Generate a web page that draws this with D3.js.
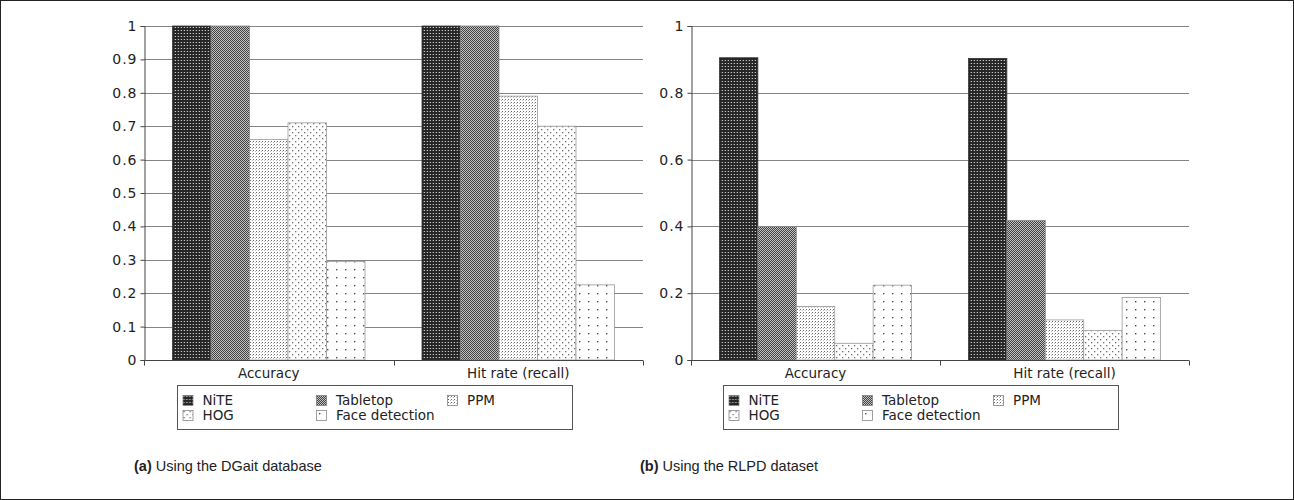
<!DOCTYPE html>
<html>
<head>
<meta charset="utf-8">
<script src="https://cdn.jsdelivr.net/npm/d3@7"></script>
<style>
  html, body { margin: 0; padding: 0; background: #fff; }
  svg { display: block; }
</style>
</head>
<body>
<svg id="chart" width="1294" height="500"></svg>
<script>
// ---- data ----
const categories = ["Accuracy", "Hit rate (recall)"];
const seriesNames = ["NiTE", "Tabletop", "PPM", "HOG", "Face detection"];
// values per category, in series order
const dgaitAccuracy = [1.0, 1.0, 0.66, 0.71, 0.295];
const dgaitHitRate  = [1.0, 1.0, 0.79, 0.70, 0.225];
const rlpdAccuracy  = [0.905, 0.40, 0.16, 0.05, 0.224];
const rlpdHitRate   = [0.903, 0.418, 0.12, 0.088, 0.187];
const dgaitTicks = [0, 0.1, 0.2, 0.3, 0.4, 0.5, 0.6, 0.7, 0.8, 0.9, 1];
const rlpdTicks  = [0, 0.2, 0.4, 0.6, 0.8, 1];
const legendRows = [["NiTE", "Tabletop", "PPM"], ["HOG", "Face detection"]];
const captions = [["(a)", " Using the DGait database"], ["(b)", " Using the RLPD dataset"]];

const svg = d3.select("#chart");
const defs = svg.append("defs");

// ---- fill patterns ----
function pat(id, w, h, bg, dots) {
  const p = defs.append("pattern").attr("id", id).attr("patternUnits", "userSpaceOnUse")
    .attr("width", w).attr("height", h);
  p.append("rect").attr("width", w).attr("height", h).attr("fill", bg);
  dots.forEach(d => p.append("rect").attr("x", d[0]).attr("y", d[1])
    .attr("width", d[2]).attr("height", d[3]).attr("fill", d[4]));
}
pat("p0", 3, 3, "#262626", [[1, 1, 1, 1, "#c8c8c8"], [0, 1, 1, 1, "#555"]]);
pat("p1", 2, 2, "#c4c4c4", [[0, 0, 1, 1, "#404040"], [1, 1, 1, 1, "#404040"]]);
pat("p2", 3, 3, "#ffffff", [[1, 1, 1, 1, "#6a6a6a"], [0, 2, 1, 1, "#c0c0c0"]]);
pat("p3", 6, 6, "#ffffff", [[1, 1, 1.3, 1.3, "#707070"], [4, 4, 1.3, 1.3, "#707070"]]);
pat("p4", 9, 8, "#ffffff", [[3, 3, 1.4, 1.4, "#505050"]]);
const fills = ["url(#p0)", "url(#p1)", "url(#p2)", "url(#p3)", "url(#p4)"];
const strokes = ["#333", "#888", "#999", "#999", "#999"];

// outer frame
svg.append("rect").attr("x", 0.5).attr("y", 0.5).attr("width", 1293).attr("height", 499)
  .attr("fill", "none").attr("stroke", "#222").attr("stroke-width", 1);

const fontChart = "DejaVu Sans, sans-serif";

function drawChart(cfg) {
  const g = svg.append("g").attr("transform", `translate(${cfg.left},${cfg.top})`);
  const W = cfg.width, H = cfg.height;
  const y = d3.scaleLinear().domain([0, 1]).range([H, 0]);
  const x0 = d3.scaleBand().domain(categories).range([0, W]).padding(0);
  const x1 = d3.scaleBand().domain(seriesNames).range([0, x0.bandwidth()])
    .paddingInner(0).paddingOuter(0.74);

  // grid lines
  g.append("g").selectAll("line").data(cfg.ticks.filter(t => t > 0)).join("line")
    .attr("x1", 0).attr("x2", W)
    .attr("y1", d => Math.round(y(d)) + 0.5).attr("y2", d => Math.round(y(d)) + 0.5)
    .attr("stroke", "#858585").attr("stroke-width", 1);

  // bars
  const cols = [cfg.values[0], cfg.values[1]];
  categories.forEach((c, ci) => {
    g.append("g").selectAll("rect").data(cols[ci]).join("rect")
      .attr("x", (d, i) => x0(c) + x1(seriesNames[i]))
      .attr("y", d => y(d))
      .attr("width", x1.bandwidth())
      .attr("height", d => H - y(d))
      .attr("fill", (d, i) => fills[i])
      .attr("stroke", (d, i) => strokes[i])
      .attr("stroke-width", 0.8);
  });

  // y axis
  const ya = g.append("g").attr("transform", "translate(0.5,0)")
    .call(d3.axisLeft(y).tickValues(cfg.ticks).tickSize(4).tickPadding(3).tickFormat(d => d));
  ya.select(".domain").attr("stroke", "#444");
  ya.selectAll(".tick line").attr("stroke", "#444");
  ya.selectAll("text").attr("font-family", fontChart).attr("font-size", 14)
    .attr("letter-spacing", 1).attr("fill", "#222");

  // x axis
  const xa = g.append("g").attr("transform", `translate(0,${H + 0.5})`);
  xa.append("line").attr("x1", 0).attr("x2", W).attr("stroke", "#444");
  const bounds = [0].concat(categories.map(c => x0(c) + x0.bandwidth()));
  xa.selectAll("line.tk").data(bounds).join("line").attr("class", "tk")
    .attr("x1", d => Math.round(d) + 0.5).attr("x2", d => Math.round(d) + 0.5)
    .attr("y1", 0).attr("y2", 5).attr("stroke", "#444");
  xa.selectAll("text").data(categories).join("text")
    .attr("x", d => x0(d) + x0.bandwidth() / 2).attr("y", 17)
    .attr("text-anchor", "middle").attr("font-family", fontChart).attr("font-size", 13.5)
    .attr("fill", "#222").text(d => d);

  // legend
  const lg = svg.append("g").attr("transform", `translate(${cfg.legX},${cfg.legY})`);
  lg.append("rect").attr("x", 0.5).attr("y", 0.5).attr("width", cfg.legW).attr("height", 44)
    .attr("fill", "#fff").attr("stroke", "#555");
  const colX = [5.5, 139, 270];
  legendRows.forEach((row, ri) => {
    row.forEach((name, ci) => {
      const si = seriesNames.indexOf(name);
      const it = lg.append("g").attr("transform", `translate(${colX[ci]},${10 + ri * 15})`);
      it.append("rect").attr("x", 0.5).attr("y", 0.5).attr("width", 10).attr("height", 10)
        .attr("fill", fills[si]).attr("stroke", "#777").attr("stroke-width", 0.7);
      it.append("text").attr("x", 20).attr("y", 10)
        .attr("font-family", fontChart).attr("font-size", 13.5).attr("fill", "#222").text(name);
    });
  });

  // caption
  const cap = svg.append("text").attr("x", cfg.capX).attr("y", 471)
    .attr("font-family", "Liberation Sans, Arial, sans-serif").attr("font-size", 14.5).attr("fill", "#222");
  cap.append("tspan").attr("font-weight", "bold").text(cfg.caption[0]);
  cap.append("tspan").text(cfg.caption[1]);
}

drawChart({
  left: 144, top: 26, width: 499, height: 334, ticks: dgaitTicks,
  values: [dgaitAccuracy, dgaitHitRate], legX: 177, legY: 385, legW: 395,
  capX: 134, caption: captions[0]
});
drawChart({
  left: 691, top: 26, width: 498, height: 334, ticks: rlpdTicks,
  values: [rlpdAccuracy, rlpdHitRate], legX: 723, legY: 385, legW: 395,
  capX: 640, caption: captions[1]
});
</script>
</body>
</html>
